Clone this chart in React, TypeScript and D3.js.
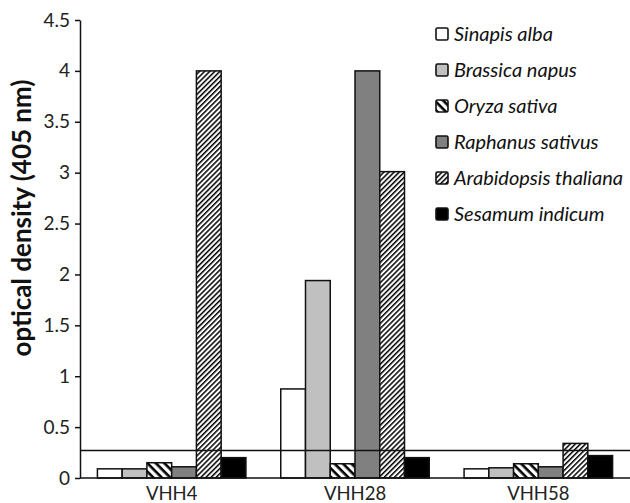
import React, { useEffect, useRef } from "react";
import * as d3 from "d3";

const groups = ["VHH4", "VHH28", "VHH58"];
const species = ["Sinapis alba", "Brassica napus", "Oryza sativa", "Raphanus sativus", "Arabidopsis thaliana", "Sesamum indicum"];
const sinapis = [0.09, 0.875, 0.09];
const brassica = [0.09, 1.94, 0.1];
const oryza = [0.15, 0.14, 0.14];
const raphanus = [0.11, 4.0, 0.11];
const arabidopsis = [4.0, 3.01, 0.34];
const sesamum = [0.2, 0.2, 0.22];
const seriesValues = [sinapis, brassica, oryza, raphanus, arabidopsis, sesamum];
const yTicks = [0, 0.5, 1, 1.5, 2, 2.5, 3, 3.5, 4, 4.5];
const cutoff = 0.27;

const fills = ["#ffffff", "#c0c0c0", "url(#hatchWide)", "#808080", "url(#hatchFine)", "#000000"];

const W = 630;
const H = 503;
const margin = { top: 20, right: 0, bottom: 25, left: 80 };
const font = "Lato, 'Open Sans', sans-serif";

export default function App() {
  const svgRef = useRef<SVGSVGElement>(null);

  useEffect(() => {
    const svg = d3.select(svgRef.current);
    svg.selectAll("*").remove();

    const defs = svg.append("defs");
    // wide back-slash hatching (Oryza)
    const p1 = defs.append("pattern")
      .attr("id", "hatchWide")
      .attr("patternUnits", "userSpaceOnUse")
      .attr("width", 6).attr("height", 6)
      .attr("patternTransform", "rotate(45)");
    p1.append("rect").attr("width", 6).attr("height", 6).attr("fill", "#fff");
    p1.append("rect").attr("width", 6).attr("height", 2.6).attr("fill", "#000");
    // fine forward-slash hatching (Arabidopsis)
    const p2 = defs.append("pattern")
      .attr("id", "hatchFine")
      .attr("patternUnits", "userSpaceOnUse")
      .attr("width", 3.6).attr("height", 3.6)
      .attr("patternTransform", "rotate(-45)");
    p2.append("rect").attr("width", 3.6).attr("height", 3.6).attr("fill", "#fff");
    p2.append("rect").attr("width", 3.6).attr("height", 1.5).attr("fill", "#000");

    const x0 = d3.scaleBand()
      .domain(groups)
      .range([margin.left, W - margin.right])
      .paddingInner(0.19)
      .paddingOuter(0.095);

    const x1 = d3.scaleBand()
      .domain(species)
      .range([0, x0.bandwidth()]);

    const y = d3.scaleLinear()
      .domain([0, 4.5])
      .range([H - margin.bottom, margin.top]);

    const g = svg.append("g");

    // bars
    species.forEach((s, i) => {
      g.selectAll(".bar-" + i)
        .data(seriesValues[i])
        .enter()
        .append("rect")
        .attr("x", (d, j) => (x0(groups[j]) as number) + (x1(s) as number))
        .attr("y", d => y(d))
        .attr("width", x1.bandwidth())
        .attr("height", d => y(0) - y(d))
        .attr("fill", fills[i])
        .attr("stroke", "#111")
        .attr("stroke-width", 1.5);
    });

    // cutoff line
    g.append("line")
      .attr("x1", margin.left).attr("x2", W)
      .attr("y1", y(cutoff)).attr("y2", y(cutoff))
      .attr("stroke", "#111").attr("stroke-width", 1.5);

    // y axis
    const yAxis = g.append("g")
      .attr("transform", `translate(${margin.left},0)`)
      .call(d3.axisLeft(y).tickValues(yTicks).tickSize(5).tickSizeOuter(0).tickFormat(d3.format("")));
    yAxis.select(".domain").attr("stroke", "#111").attr("stroke-width", 1.5);
    yAxis.selectAll(".tick line").attr("stroke", "#111").attr("stroke-width", 1.5);
    yAxis.selectAll(".tick text")
      .attr("x", -10)
      .attr("fill", "#222")
      .style("font-family", font)
      .style("font-size", "19px");

    // x axis
    g.append("line")
      .attr("x1", margin.left).attr("x2", W)
      .attr("y1", y(0)).attr("y2", y(0))
      .attr("stroke", "#111").attr("stroke-width", 1.5);
    g.selectAll(".xlab")
      .data(groups)
      .enter()
      .append("text")
      .attr("x", d => (x0(d) as number) + x0.bandwidth() / 2)
      .attr("y", H - 3)
      .attr("text-anchor", "middle")
      .attr("fill", "#222")
      .style("font-family", font)
      .style("font-size", "18.5px")
      .text(d => d);

    // y label
    g.append("text")
      .attr("transform", "translate(31, 218) rotate(-90)")
      .attr("text-anchor", "middle")
      .attr("fill", "#111")
      .style("font-family", font)
      .style("font-weight", "bold")
      .style("font-size", "26px")
      .text("optical density (405 nm)");

    // legend
    const legend = g.append("g").attr("transform", "translate(436, 28)");
    species.forEach((s, i) => {
      const row = legend.append("g").attr("transform", `translate(0, ${i * 36})`);
      row.append("rect")
        .attr("x", 0).attr("y", 0)
        .attr("width", 12).attr("height", 12)
        .attr("rx", 1.5)
        .attr("fill", fills[i])
        .attr("stroke", "#111")
        .attr("stroke-width", 1.6);
      row.append("text")
        .attr("x", 18).attr("y", 13)
        .attr("fill", "#111")
        .style("font-family", font)
        .style("font-style", "italic")
        .style("font-size", "20px")
        .text(s);
    });
  }, []);

  return <svg ref={svgRef} width={W} height={H} style={{ position: "absolute", left: 0, top: 0, background: "#fff" }} />;
}
